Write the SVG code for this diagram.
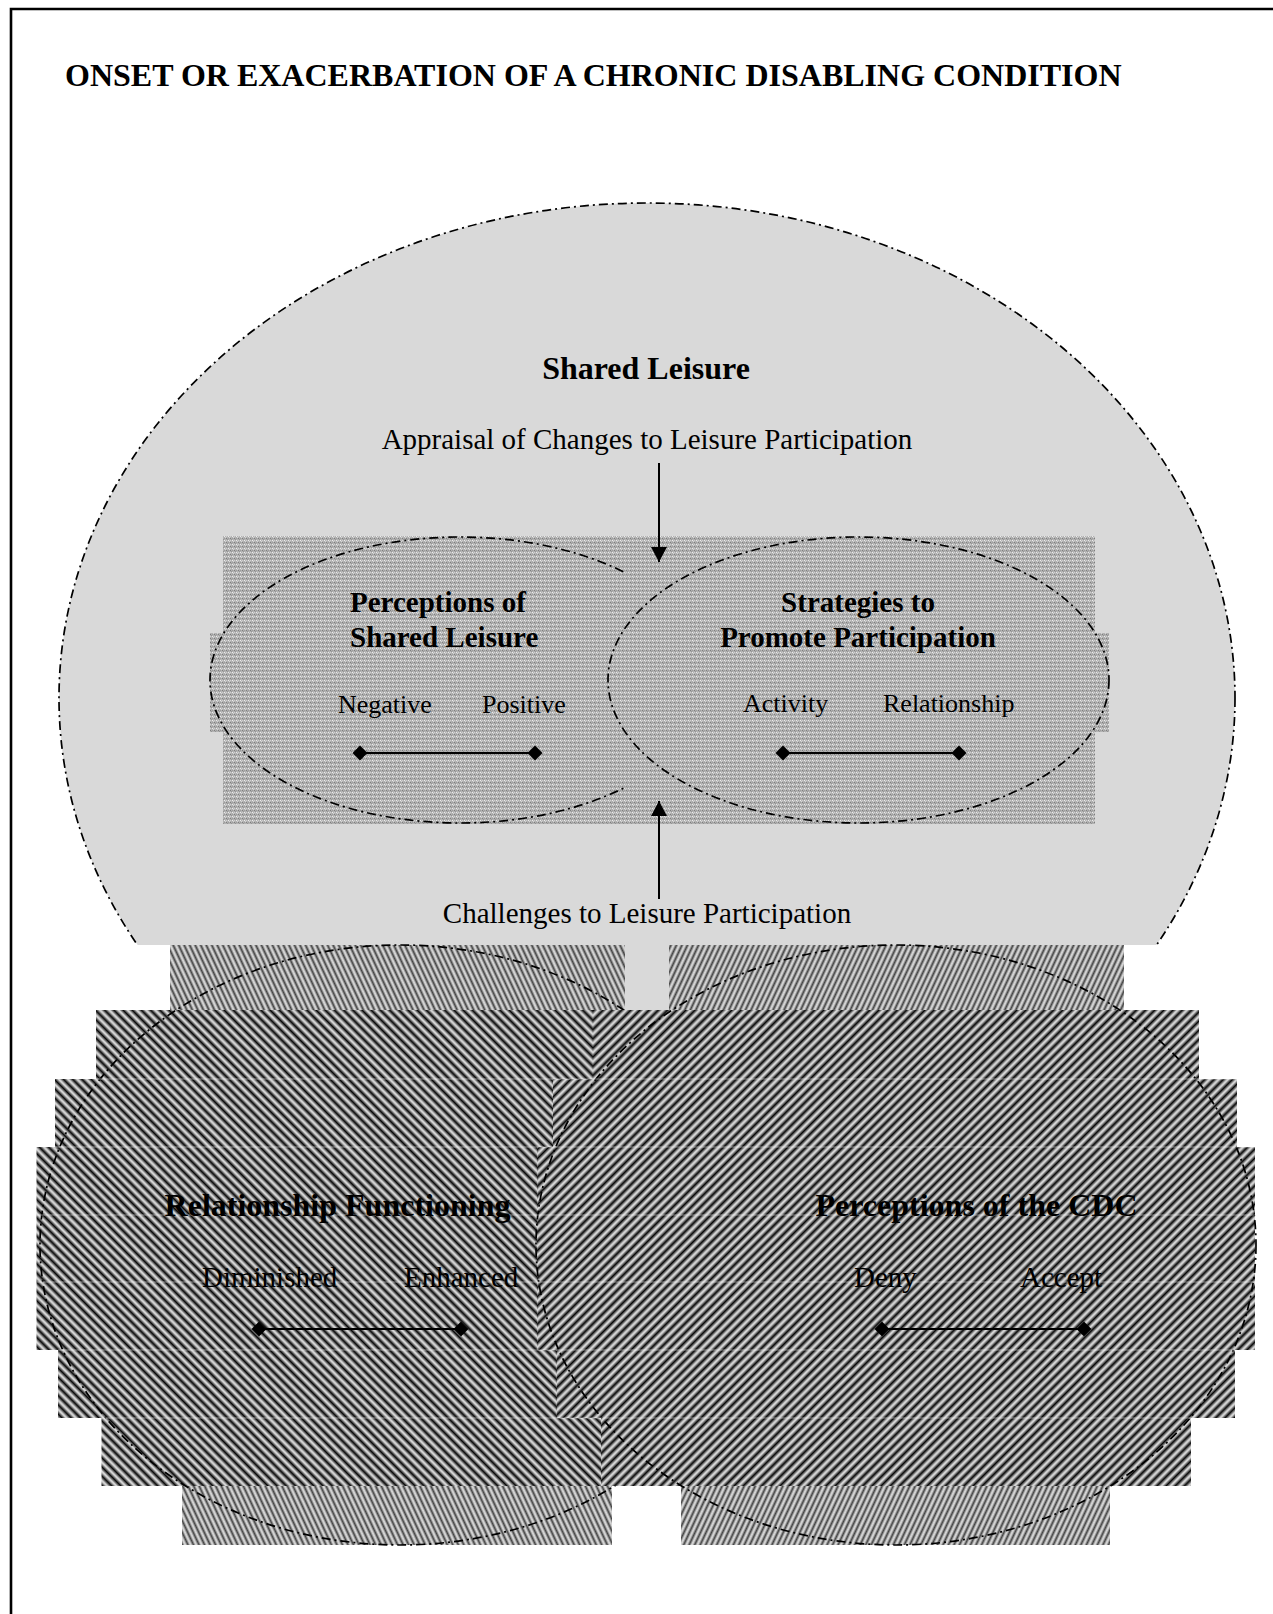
<svg xmlns="http://www.w3.org/2000/svg" width="1273" height="1614" viewBox="0 0 1273 1614">
  <style>
    .t { font-family: "Liberation Serif", "Times New Roman", serif; fill: #000; }
    .b { font-weight: bold; }
    .outline { fill: none; stroke: #000; stroke-width: 1.7; stroke-dasharray: 9 4 2 4; }
    .scale { stroke: #000; stroke-width: 2; fill: none; marker-start: url(#diamond); marker-end: url(#diamond); }
    .conn { stroke: #000; stroke-width: 2; fill: none; marker-end: url(#arrow); }
    .seam { stroke: #fff; stroke-opacity: 0.45; stroke-width: 1; }
  </style>
  <defs>
    <linearGradient id="gDark" x1="0" y1="0" x2="1" y2="0">
      <stop offset="0" stop-color="#f4f4f4"/>
      <stop offset="0.5" stop-color="#080808"/>
      <stop offset="1" stop-color="#f4f4f4"/>
    </linearGradient>
    <linearGradient id="gLight" x1="0" y1="0" x2="1" y2="0">
      <stop offset="0" stop-color="#f6f6f6"/>
      <stop offset="0.5" stop-color="#444"/>
      <stop offset="1" stop-color="#f6f6f6"/>
    </linearGradient>
    <pattern id="stripeL" width="6.5" height="10" patternUnits="userSpaceOnUse" patternTransform="rotate(-45)">
      <rect width="6.5" height="10" fill="url(#gDark)"/>
    </pattern>
    <pattern id="stripeR" width="6.5" height="10" patternUnits="userSpaceOnUse" patternTransform="rotate(45)">
      <rect width="6.5" height="10" fill="url(#gDark)"/>
    </pattern>
    <pattern id="stripeL1" width="5" height="10" patternUnits="userSpaceOnUse" patternTransform="rotate(-25)">
      <rect width="5" height="10" fill="url(#gLight)"/>
    </pattern>
    <pattern id="stripeR1" width="5" height="10" patternUnits="userSpaceOnUse" patternTransform="rotate(25)">
      <rect width="5" height="10" fill="url(#gLight)"/>
    </pattern>
    <pattern id="mottle" width="4" height="4" patternUnits="userSpaceOnUse">
      <rect width="4" height="4" fill="#b2b2b2"/>
      <rect x="0" y="0" width="1" height="1" fill="#ececec"/>
      <rect x="1" y="1" width="1" height="1" fill="#d6d6d6"/>
      <rect x="2" y="2" width="1" height="1" fill="#7e7e7e"/>
      <rect x="3" y="3" width="1" height="1" fill="#959595"/>
      <rect x="2" y="0" width="1" height="1" fill="#d0d0d0"/>
      <rect x="0" y="2" width="1" height="1" fill="#9c9c9c"/>
    </pattern>
    <marker id="diamond" markerUnits="userSpaceOnUse" markerWidth="16" markerHeight="16" refX="8" refY="8" orient="0">
      <path d="M0.5,8 L8,0.5 L15.5,8 L8,15.5 Z" fill="#000"/>
    </marker>
    <marker id="arrow" markerUnits="userSpaceOnUse" markerWidth="16" markerHeight="18" refX="15" refY="8" orient="auto">
      <path d="M0,0 L15,8 L0,16 Z" fill="#000"/>
    </marker>
    <clipPath id="clipLeftInner">
      <rect x="0" y="0" width="624" height="900"/>
    </clipPath>
    <clipPath id="clipBig">
      <path d="M0,0 H1273 V945 H1124 V1010 H170 V945 H0 Z"/>
    </clipPath>
  </defs>

  <g id="frame">
    <path d="M11,1614 V9 H1273" fill="none" stroke="#000" stroke-width="2.6"/>
    <text class="t b" x="65" y="86" font-size="32">ONSET OR EXACERBATION OF A CHRONIC DISABLING CONDITION</text>
  </g>

  <g id="shared-leisure">
    <g clip-path="url(#clipBig)">
      <ellipse cx="647" cy="698" rx="588" ry="495" fill="#d9d9d9"/>
      <ellipse class="outline" cx="647" cy="698" rx="588" ry="495"/>
    </g>
    <text class="t b" x="646" y="379" font-size="32" text-anchor="middle">Shared Leisure</text>
  </g>

  <g id="shared-leisure-inner-fill">
    <rect x="223" y="536" width="872" height="288" fill="url(#mottle)"/>
    <rect x="210" y="633" width="899" height="99" fill="url(#mottle)"/>
  </g>

  <g id="perceptions-of-shared-leisure">
    <ellipse class="outline" cx="460" cy="680" rx="250" ry="143" clip-path="url(#clipLeftInner)"/>
    <text class="t b" x="350" y="612" font-size="29">Perceptions of</text>
    <text class="t b" x="350" y="647" font-size="29">Shared Leisure</text>
    <text class="t" x="338" y="713" font-size="26">Negative</text>
    <text class="t" x="482" y="713" font-size="26">Positive</text>
    <line class="scale" x1="360" y1="753" x2="535" y2="753"/>
  </g>

  <g id="strategies-to-promote-participation">
    <ellipse class="outline" cx="858.5" cy="680" rx="250.5" ry="143"/>
    <text class="t b" x="858" y="612" font-size="29" text-anchor="middle">Strategies to</text>
    <text class="t b" x="858" y="647" font-size="29" text-anchor="middle">Promote Participation</text>
    <text class="t" x="743" y="712" font-size="26">Activity</text>
    <text class="t" x="883" y="712" font-size="26">Relationship</text>
    <line class="scale" x1="783" y1="753" x2="959" y2="753"/>
  </g>

  <g id="relationship-functioning">
    <rect x="170" y="945" width="455" height="65" fill="url(#stripeL1)"/>
    <rect x="96" y="1010" width="497" height="69" fill="url(#stripeL)"/>
    <rect x="55" y="1079" width="498" height="68" fill="url(#stripeL)"/>
    <rect x="36.5" y="1147" width="500.5" height="203" fill="url(#stripeL)"/>
    <rect x="58" y="1350" width="499" height="68" fill="url(#stripeL)"/>
    <rect x="101.5" y="1418" width="499.5" height="68" fill="url(#stripeL)"/>
    <rect x="182" y="1486" width="430" height="59" fill="url(#stripeL1)"/>
    <ellipse class="outline" cx="400" cy="1245" rx="360" ry="300"/>
  </g>

  <g id="perceptions-of-the-cdc">
    <rect x="669" y="945" width="455" height="65" fill="url(#stripeR1)"/>
    <rect x="593" y="1010" width="606" height="69" fill="url(#stripeR)"/>
    <rect x="553" y="1079" width="684" height="68" fill="url(#stripeR)"/>
    <rect x="537" y="1147" width="718" height="203" fill="url(#stripeR)"/>
    <rect x="557" y="1350" width="678" height="68" fill="url(#stripeR)"/>
    <rect x="601" y="1418" width="590" height="68" fill="url(#stripeR)"/>
    <rect x="681" y="1486" width="429" height="59" fill="url(#stripeR1)"/>
    <ellipse class="outline" cx="896" cy="1245" rx="360" ry="300"/>
  </g>

  <g id="band-seams">
    <line class="seam" x1="96" y1="1079" x2="1237" y2="1079"/>
    <line class="seam" x1="55" y1="1147" x2="1255" y2="1147"/>
    <line class="seam" x1="36.5" y1="1215" x2="1255" y2="1215"/>
    <line class="seam" x1="36.5" y1="1282" x2="1255" y2="1282"/>
    <line class="seam" x1="58" y1="1350" x2="1235" y2="1350"/>
    <line class="seam" x1="101.5" y1="1418" x2="1191" y2="1418"/>
  </g>

  <g id="relationship-functioning-labels">
    <text class="t b" x="337.5" y="1216" font-size="32" text-anchor="middle">Relationship Functioning</text>
    <text class="t" x="202" y="1287" font-size="29">Diminished</text>
    <text class="t" x="404" y="1287" font-size="29">Enhanced</text>
    <line class="scale" x1="259" y1="1329" x2="461" y2="1329"/>
  </g>

  <g id="perceptions-of-the-cdc-labels">
    <text class="t b" x="976.5" y="1216" font-size="32" text-anchor="middle">Perceptions of the CDC</text>
    <text class="t" x="854" y="1287" font-size="29">Deny</text>
    <text class="t" x="1020" y="1287" font-size="29">Accept</text>
    <line class="scale" x1="882" y1="1329" x2="1084" y2="1329"/>
  </g>

  <g id="connectors">
    <line class="conn" x1="659" y1="463" x2="659" y2="562"/>
    <text class="t" x="647" y="449" font-size="29" text-anchor="middle">Appraisal of Changes to Leisure Participation</text>
    <line class="conn" x1="659" y1="899" x2="659" y2="801"/>
    <text class="t" x="647" y="923" font-size="29" text-anchor="middle">Challenges to Leisure Participation</text>
  </g>
</svg>
